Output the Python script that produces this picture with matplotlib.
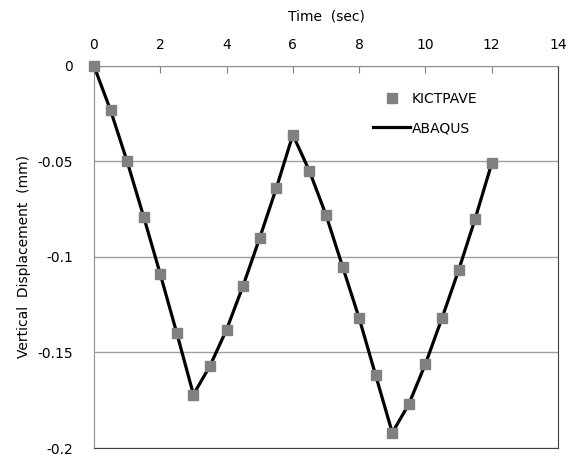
import matplotlib
matplotlib.use("Agg")
import matplotlib.pyplot as plt
from matplotlib.lines import Line2D

time_s = [0, 0.5, 1, 1.5, 2, 2.5, 3, 3.5, 4, 4.5, 5, 5.5, 6, 6.5, 7, 7.5, 8,
          8.5, 9, 9.5, 10, 10.5, 11, 11.5, 12]
kictpave = [0, -0.0232, -0.050, -0.079, -0.109, -0.140, -0.172, -0.157, -0.138,
            -0.115, -0.090, -0.064, -0.036, -0.055, -0.078, -0.105, -0.132,
            -0.162, -0.192, -0.177, -0.156, -0.132, -0.107, -0.080, -0.051]
abaqus = list(kictpave)

xticks = [0, 2, 4, 6, 8, 10, 12, 14]
yticks = [0, -0.05, -0.1, -0.15, -0.2]
yticklabels = ["0", "-0.05", "-0.1", "-0.15", "-0.2"]

plt.rcParams['font.family'] = ['DejaVu Sans']
fig = plt.figure(figsize=(5.74, 4.61), dpi=100)
ax = fig.add_axes([94/574, 1-448/461, (558-94)/574, (448-66)/461])

ax.plot(time_s, abaqus, color='black', lw=2.3, zorder=3)
ax.plot(time_s, kictpave, ls='none', marker='s', ms=7, color='#808080',
        mec='#808080', zorder=4, clip_on=False)

ax.set_xlim(0, 14)
ax.set_ylim(-0.2, 0)
ax.xaxis.tick_top()
ax.xaxis.set_label_position('top')
ax.set_xticks(xticks)
ax.set_yticks(yticks)
ax.set_yticklabels(yticklabels)
ax.tick_params(axis='x', direction='in', length=5, color='#808080',
               labelsize=10, pad=10)
ax.tick_params(axis='y', length=0, labelsize=10, pad=15)
ax.set_xlabel('Time  (sec)', fontsize=10, labelpad=13)
ax.set_ylabel('Vertical  Displacement  (mm)', fontsize=10, labelpad=5)
ax.grid(axis='y', color='#a0a0a0', lw=1)
ax.set_axisbelow(True)
for s in ['left', 'top']:
    ax.spines[s].set_color('#909090')
for s in ['right', 'bottom']:
    ax.spines[s].set_color('#404040')

handles = [Line2D([], [], ls='none', marker='s', ms=7, color='#808080'),
           Line2D([], [], color='black', lw=2.3)]
ax.legend(handles, ['KICTPAVE', 'ABAQUS'], frameon=False, fontsize=10,
          loc='upper left', bbox_to_anchor=(0.601, 0.932), handlelength=2.7,
          handletextpad=0.1, labelspacing=1.1, borderpad=0, borderaxespad=0)

fig.savefig('out.png', dpi=100)
